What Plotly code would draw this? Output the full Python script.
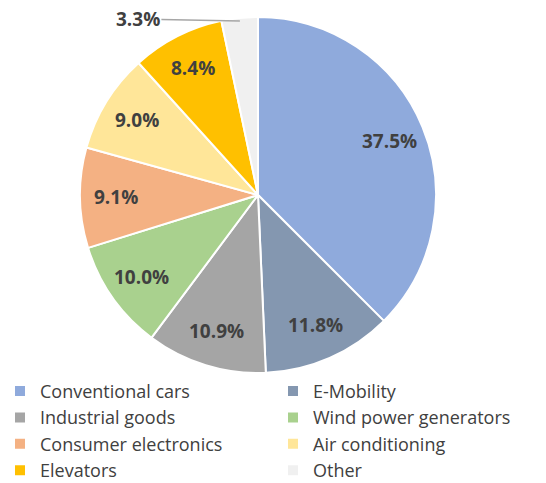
import math
import plotly.graph_objects as go

categories = ["Conventional cars", "E-Mobility", "Industrial goods", "Wind power generators",
              "Consumer electronics", "Air conditioning", "Elevators", "Other"]
shares = [37.5, 11.8, 10.9, 10.0, 9.1, 9.0, 8.4, 3.3]
colors = ["#8FAADC", "#8497B0", "#A5A5A5", "#A9D18E", "#F4B183", "#FFE699", "#FFC000", "#F0F0F0"]

W, H = 546, 483
cx, cy, r = 258, 195, 178

fig = go.Figure(go.Pie(
    labels=categories,
    values=shares,
    sort=False,
    direction="clockwise",
    rotation=0,
    marker=dict(colors=colors, line=dict(color="white", width=2)),
    textinfo="none",
    domain=dict(x=[(cx - r) / W, (cx + r) / W], y=[1 - (cy + r) / H, 1 - (cy - r) / H]),
    hoverinfo="label+percent",
))

# data labels placed along each slice's mid-angle (computed from the values)
total = sum(shares)
cum = 0.0
label_font = dict(family="Open Sans", size=19, color="#404040")
for i, v in enumerate(shares):
    mid = (cum + v / 2) / total
    cum += v
    theta = 2 * math.pi * mid
    if i < len(shares) - 1:
        lx = cx + 0.8 * r * math.sin(theta)
        ly = cy - 0.8 * r * math.cos(theta)
        fig.add_annotation(
            x=lx / W, y=1 - ly / H, xref="paper", yref="paper",
            xanchor="center", yanchor="middle",
            text=f"<b>{v:.1f}%</b>", showarrow=False, font=label_font,
        )
    else:
        tip_x = cx + (r - 3) * math.sin(theta)
        tip_y = cy - (r - 3) * math.cos(theta)
        fig.add_annotation(
            x=tip_x / W, y=1 - tip_y / H, xref="paper", yref="paper",
            text=f"<b>{v:.1f}%</b>",
            showarrow=True, arrowhead=0, arrowwidth=1.5, arrowcolor="#A6A6A6",
            ax=-102, ay=-2, font=label_font,
        )

fig.update_layout(
    width=W, height=H,
    margin=dict(l=0, r=0, t=0, b=0, autoexpand=False),
    paper_bgcolor="white",
    plot_bgcolor="white",
    font=dict(family="Open Sans", color="#595959"),
    legend=dict(
        orientation="h",
        x=0.0, y=-0.012, xanchor="left", yanchor="bottom",
        entrywidth=228, entrywidthmode="pixels",
        font=dict(size=18, color="#404040"),
        bgcolor="rgba(0,0,0,0)",
    ),
)

fig.write_html("out.html")
